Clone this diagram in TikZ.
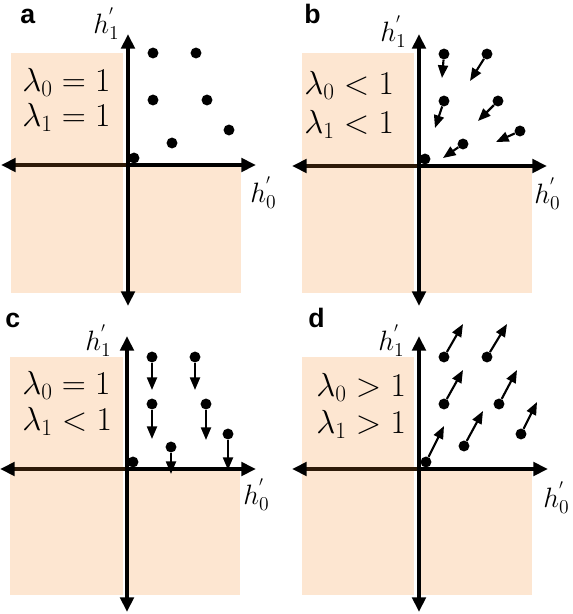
\RequirePackage{fix-cm}
\documentclass[tikz,border=0pt]{standalone}
\usepackage{fontspec}
\newfontfamily\labfont{Liberation Sans}
\usetikzlibrary{arrows.meta}
\definecolor{peach}{HTML}{FDE6D1}
\definecolor{axbrown}{HTML}{2E1A08}
\tikzset{
  shadebox/.style={fill=peach,draw=none},
  dot/.style={circle,fill=black,inner sep=0pt,minimum size=8.2pt},
  axisv/.style={line width=3pt,{Triangle[length=11pt,width=10pt]}-{Triangle[length=11pt,width=10pt]}},
  axisr/.style={line width=3pt,-{Triangle[length=11pt,width=10pt]}},
  axisl/.style={line width=3pt,draw=axbrown,-{Triangle[length=11pt,width=10pt,color=black]}},
  sarrow/.style={line width=1.6pt,-{Triangle[length=9.5pt,width=7.5pt]}},
  lam/.style={anchor=base west,inner sep=0pt,font=\fontsize{25}{30}\selectfont},
  hlab/.style={anchor=base west,inner sep=0pt,font=\fontsize{21}{25}\selectfont},
  plab/.style={anchor=base west,inner sep=0pt,font=\labfont\bfseries\fontsize{20}{24}\selectfont},
}
\begin{document}
\begin{tikzpicture}[x=0.75pt,y=-0.75pt]
\useasboundingbox (0,0) rectangle (572,614);

% ---------- panel a ----------
\begin{scope}[shift={(128,165)}]
  \fill[shadebox] (-117,-112) rectangle (-5,128);
  \fill[shadebox] (1,2) rectangle (113,128);
  \node[dot] (a1) at (25,-112) {};
  \node[dot] (a2) at (68,-112) {};
  \node[dot] (a3) at (25,-65) {};
  \node[dot] (a4) at (79,-65) {};
  \node[dot] (a5) at (101,-35) {};
  \node[dot] (a6) at (44,-22) {};
  \node[dot] (a7) at (6,-7) {};
  \coordinate (aO) at (0,0);
  \coordinate (aL) at (-127,0);
  \coordinate (aR) at (128,0);
  \coordinate (aT) at (0,-131);
  \coordinate (aB) at (0,141);
  \draw[axisl] (aO) -- (aL);
  \draw[axisr] (aO) -- (aR);
  \draw[axisv] (aB) -- (aT);
\end{scope}
\node[plab] (la) at (20,23) {a};
\node[hlab] (ha1) at (93,33) {$h^{'}_1$};
\node[hlab] (ha0) at (250,202) {$h^{'}_0$};
\node[lam] (ta0) at (22,91) {$\lambda_0 = 1$};
\node[lam] (ta1) at (22,126) {$\lambda_1 = 1$};

% ---------- panel b ----------
\begin{scope}[shift={(419,166)}]
  \fill[shadebox] (-117,-113) rectangle (-5,127);
  \fill[shadebox] (1,1) rectangle (113,127);
  \node[dot] (b1) at (25,-112) {};
  \node[dot] (b2) at (68,-112) {};
  \node[dot] (b3) at (25,-65) {};
  \node[dot] (b4) at (79,-65) {};
  \node[dot] (b5) at (101,-35) {};
  \node[dot] (b6) at (44,-22) {};
  \node[dot] (b7) at (6,-7) {};
  \coordinate (b1t) at (23,-88);
  \coordinate (b2t) at (51,-85);
  \coordinate (b3t) at (16,-38);
  \coordinate (b4t) at (59,-45);
  \coordinate (b5t) at (77,-24);
  \coordinate (b6t) at (24,-8);
  \draw[sarrow] (b1) -- (b1t);
  \draw[sarrow] (b2) -- (b2t);
  \draw[sarrow] (b3) -- (b3t);
  \draw[sarrow] (b4) -- (b4t);
  \draw[sarrow] (b5) -- (b5t);
  \draw[sarrow] (b6) -- (b6t);
  \coordinate (bO) at (0,0);
  \coordinate (bL) at (-127,0);
  \coordinate (bR) at (128,0);
  \coordinate (bT) at (0,-132);
  \coordinate (bB) at (0,140);
  \draw[axisl] (bO) -- (bL);
  \draw[axisr] (bO) -- (bR);
  \draw[axisv] (bB) -- (bT);
\end{scope}
\node[plab] (lb) at (304,23) {b};
\node[hlab] (hb1) at (380,41) {$h^{'}_1$};
\node[hlab] (hb0) at (534,203) {$h^{'}_0$};
\node[lam] (tb0) at (304,94) {$\lambda_0 < 1$};
\node[lam] (tb1) at (304,133) {$\lambda_1 < 1$};

% ---------- panel c ----------
\begin{scope}[shift={(127,469)}]
  \fill[shadebox] (-117,-112) rectangle (-4,126);
  \fill[shadebox] (1,1) rectangle (113,126);
  \node[dot] (c1) at (25,-112) {};
  \node[dot] (c2) at (68,-112) {};
  \node[dot] (c3) at (25,-65) {};
  \node[dot] (c4) at (79,-65) {};
  \node[dot] (c5) at (101,-35) {};
  \node[dot] (c6) at (44,-22) {};
  \node[dot] (c7) at (6,-7) {};
  \coordinate (c1t) at (25,-79);
  \coordinate (c2t) at (68,-79);
  \coordinate (c3t) at (25,-30);
  \coordinate (c4t) at (79,-29);
  \coordinate (c5t) at (101,1);
  \coordinate (c6t) at (44,5);
  \draw[sarrow] (c1) -- (c1t);
  \draw[sarrow] (c2) -- (c2t);
  \draw[sarrow] (c3) -- (c3t);
  \draw[sarrow] (c4) -- (c4t);
  \draw[sarrow] (c5) -- (c5t);
  \draw[sarrow] (c6) -- (c6t);
  \coordinate (cO) at (0,0);
  \coordinate (cL) at (-127,0);
  \coordinate (cR) at (129,0);
  \coordinate (cT) at (0,-133);
  \coordinate (cB) at (0,143);
  \draw[axisl] (cO) -- (cL);
  \draw[axisr] (cO) -- (cR);
  \draw[axisv] (cB) -- (cT);
\end{scope}
\node[plab] (lc) at (5,327) {c};
\node[hlab] (hc1) at (85,350) {$h^{'}_1$};
\node[hlab] (hc0) at (243,504) {$h^{'}_0$};
\node[lam] (tc0) at (22,394) {$\lambda_0 = 1$};
\node[lam] (tc1) at (22,430) {$\lambda_1 < 1$};

% ---------- panel d ----------
\begin{scope}[shift={(419,469)}]
  \fill[shadebox] (-117,-112) rectangle (-5,126);
  \fill[shadebox] (1,1) rectangle (113,126);
  \coordinate (d1t) at (44,-145);
  \coordinate (d2t) at (88,-145);
  \coordinate (d3t) at (44,-99);
  \coordinate (d4t) at (98,-99);
  \coordinate (d5t) at (118,-67);
  \coordinate (d6t) at (64,-58);
  \coordinate (d7t) at (25,-43);
  \node[dot] (d1) at (25,-112) {};
  \node[dot] (d2) at (68,-112) {};
  \node[dot] (d3) at (25,-65) {};
  \node[dot] (d4) at (80,-65) {};
  \node[dot] (d5) at (102,-35) {};
  \node[dot] (d6) at (45,-23) {};
  \node[dot] (d7) at (7,-7) {};
  \draw[sarrow] (d1) -- (d1t);
  \draw[sarrow] (d2) -- (d2t);
  \draw[sarrow] (d3) -- (d3t);
  \draw[sarrow] (d4) -- (d4t);
  \draw[sarrow] (d5) -- (d5t);
  \draw[sarrow] (d6) -- (d6t);
  \draw[sarrow] (d7) -- (d7t);
  \coordinate (dO) at (0,0);
  \coordinate (dL) at (-127,0);
  \coordinate (dR) at (129,0);
  \coordinate (dT) at (0,-133);
  \coordinate (dB) at (0,143);
  \draw[axisl] (dO) -- (dL);
  \draw[axisr] (dO) -- (dR);
  \draw[axisv] (dB) -- (dT);
\end{scope}
\node[plab] (ld) at (308,327) {d};
\node[hlab] (hd1) at (378,350) {$h^{'}_1$};
\node[hlab] (hd0) at (543,507) {$h^{'}_0$};
\node[lam] (td0) at (316,396) {$\lambda_0 > 1$};
\node[lam] (td1) at (316,433) {$\lambda_1 > 1$};
\end{tikzpicture}
\end{document}
